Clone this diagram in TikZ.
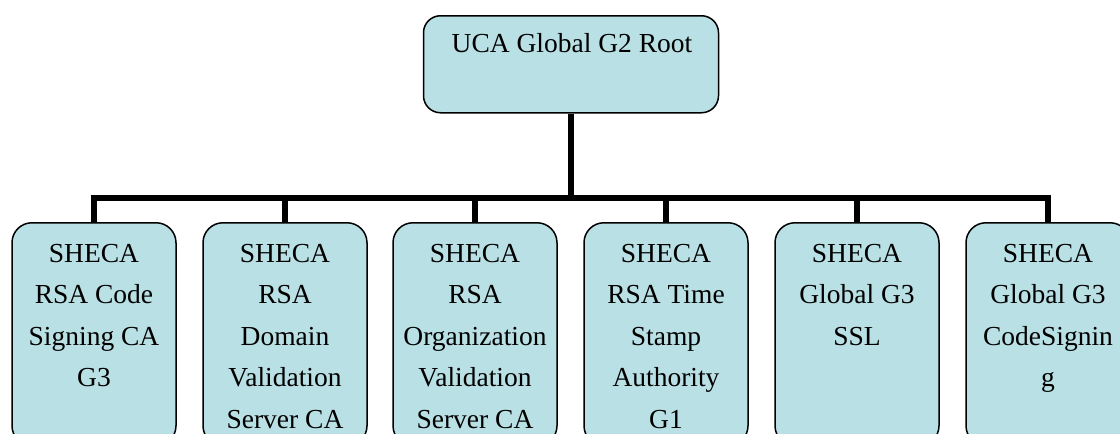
\documentclass[tikz,border=0pt]{standalone}
\usepackage{fontspec}
\setmainfont{Liberation Serif}
\definecolor{boxfill}{HTML}{B9E0E4}
\begin{document}
\begin{tikzpicture}[x=1pt,y=1pt,
  box/.style={draw=black, line width=1.5pt, fill=boxfill, rounded corners=20pt,
    minimum width=164pt, minimum height=223pt, anchor=north, inner sep=0pt},
  rootbox/.style={draw=black, line width=1.5pt, fill=boxfill, rounded corners=17pt,
    minimum width=295pt, minimum height=97pt, anchor=north, inner sep=0pt},
  lbl/.style={font=\fontsize{27.5}{41.5}\selectfont, align=center, anchor=base, inner sep=0pt},
  conn/.style={line width=6pt}]
\useasboundingbox (0,0) rectangle (1120,-434);
\node[rootbox] (root) at (571,-15) {};
\node[lbl] (troot) at (572,-52) {UCA Global G2 Root};
\node[box] (c1) at (94,-222) {};
\node[box] (c2) at (285,-222) {};
\node[box] (c3) at (475,-222) {};
\node[box] (c4) at (666,-222) {};
\node[box] (c5) at (857,-222) {};
\node[box] (c6) at (1048,-222) {};
% base anchor = baseline of the last line; first baseline at y=262, line step 41.5
\node[lbl] (t1) at (94,-386.5) {SHECA\\RSA Code\\Signing CA\\G3};
\node[lbl] (t2) at (285,-428) {SHECA\\RSA\\Domain\\Validation\\Server CA};
\node[lbl] (t3) at (475,-428) {SHECA\\RSA\\Organization\\Validation\\Server CA};
\node[lbl] (t4) at (666,-428) {SHECA\\RSA Time\\Stamp\\Authority\\G1};
\node[lbl] (t5) at (857,-345) {SHECA\\Global G3\\SSL};
\node[lbl] (t6) at (1048,-386.5) {SHECA\\Global G3\\CodeSignin\\g};
\coordinate (bar) at (0,-198);
\draw[conn] (root.south) -- (root.south |- bar);
\draw[conn] (c1.north) |- (bar -| c6.north) -- (c6.north);
\draw[conn] (c2.north) -- (c2.north |- bar);
\draw[conn] (c3.north) -- (c3.north |- bar);
\draw[conn] (c4.north) -- (c4.north |- bar);
\draw[conn] (c5.north) -- (c5.north |- bar);
\end{tikzpicture}
\end{document}
